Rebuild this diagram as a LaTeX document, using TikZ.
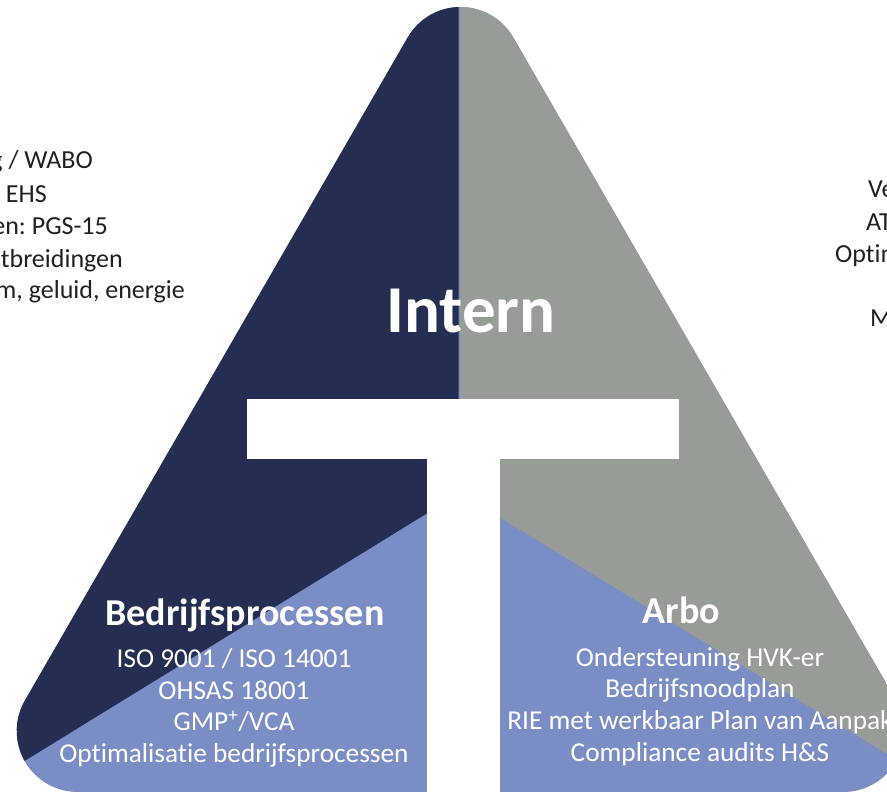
\documentclass[tikz,border=0pt]{standalone}
\usepackage{fontspec}
\setmainfont{Carlito}[Ligatures=NoCommon]
\frenchspacing
\definecolor{navyfill}{RGB}{36,46,82}
\definecolor{grayfill}{RGB}{152,156,150}
\definecolor{bluefill}{RGB}{122,142,197}
\definecolor{darktext}{RGB}{35,31,32}
\begin{document}
\begin{tikzpicture}[x=1pt,y=1pt,
  side/.style={inner sep=0pt,text=darktext,font=\fontsize{26}{30}\selectfont},
  title/.style={inner sep=0pt,text=white,font=\bfseries\fontsize{38}{42}\selectfont,anchor=base},
  body/.style={inner sep=0pt,text=white,font=\fontsize{27.3}{31}\selectfont,anchor=base}]
\useasboundingbox (0,0) rectangle (887,793);
\clip (0,0) rectangle (887,793);
\def\tripath{(77.7,1) -- (843.3,1) arc[start angle=-90,end angle=30,radius=61] -- (513.3,755.5) arc[start angle=30,end angle=150,radius=61] -- (24.9,92.5) arc[start angle=150,end angle=270,radius=61] -- cycle}
\begin{scope}
  \clip \tripath;
  \fill[bluefill] (-10,-100) rectangle (1000,1000);
  \fill[navyfill] (458.5,299) -- (-100,-44.6) -- (-100,1000) -- (458.5,1000) -- cycle;
  \fill[grayfill] (460,300) -- (1000,-30) -- (1000,1000) -- (460,1000) -- cycle;
\end{scope}
% T
\fill[white] (247,334) rectangle (679,394);
\fill[white] (427,-2) rectangle (500,334.5);
% titles
\node[title,font=\bfseries\fontsize{67}{70}\selectfont] (intern) at (471,460) {Intern};
\node[title] (bedr) at (245,167) {Bedrijfsprocessen};
\node[title] (arbo) at (681.5,169) {Arbo};
% left body
\node[body] (b1) at (234,125) {ISO 9001 / ISO 14001};
\node[body] (b2) at (234,93.5) {OHSAS 18001};
\node[body] (b3) at (234,62) {GMP\textsuperscript{+}/VCA};
\node[body] (b4) at (234,30) {Optimalisatie bedrijfsprocessen};
% right body
\node[body] (a1) at (700,126) {Ondersteuning HVK-er};
\node[body] (a2) at (700,95) {Bedrijfsnoodplan};
\node[body] (a3) at (700,63) {RIE met werkbaar Plan van Aanpak};
\node[body] (a4) at (700,31) {Compliance audits H\&S};
% left side text (cut off)
\node[side,anchor=base east] (s1) at (93,624) {g / WABO};
\node[side,anchor=base east] (s2) at (47,590) {EHS};
\node[side,anchor=base east] (s3) at (108,558) {en: PGS-15};
\node[side,anchor=base east] (s4) at (123,525) {tbreidingen};
\node[side,anchor=base east] (s5) at (185,494) {m, geluid, energie};
% right side text (cut off)
\node[side,anchor=base west] (r1) at (868,595) {Ve};
\node[side,anchor=base west] (r2) at (866,562) {AT};
\node[side,anchor=base west] (r3) at (835,530) {Optim};
\node[side,anchor=base west] (r4) at (870,466) {M};
\end{tikzpicture}
\end{document}
